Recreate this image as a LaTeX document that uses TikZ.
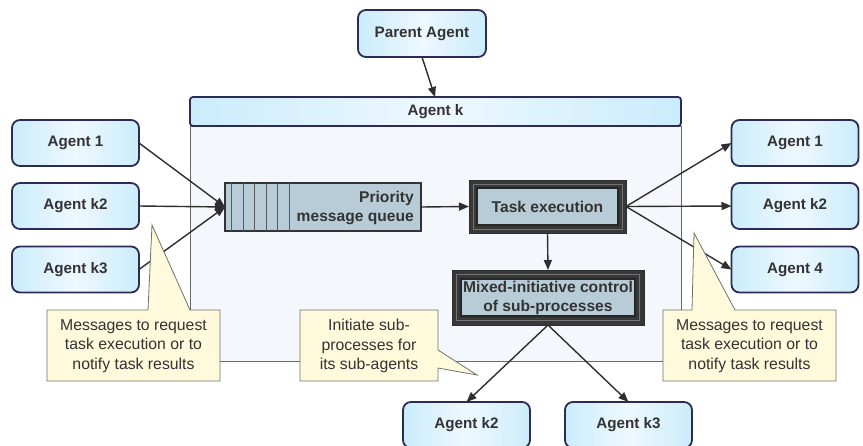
\documentclass[tikz,border=0pt]{standalone}
\usepackage{fontspec}
\setmainfont{Liberation Sans}
\usetikzlibrary{arrows.meta}

\definecolor{navy}{HTML}{2B2B55}
\definecolor{agentblue}{HTML}{CBECFC}
\definecolor{agentpale}{HTML}{EEF8FE}
\definecolor{labelgray}{HTML}{333333}
\definecolor{linegray}{HTML}{2E2E2E}
\definecolor{bodyfill}{HTML}{F4F8FC}
\definecolor{bodyedge}{HTML}{6A6A6A}
\definecolor{slate}{HTML}{B8CCD8}
\definecolor{notefill}{HTML}{FFFADC}
\definecolor{noteedge}{HTML}{707070}

\tikzset{
  agentbox/.style={draw=navy, line width=1.8pt, rounded corners=8pt,
    minimum width=127pt, minimum height=46pt, inner sep=0pt, outer sep=0pt,
    left color=agentblue, right color=agentblue, middle color=agentpale,
    text=labelgray, font=\fontsize{15.2}{18}\selectfont\bfseries},
  flow/.style={draw=linegray, line width=1.4pt,
    -{Triangle[length=10pt,width=8pt]}},
  frameouter/.style={draw=linegray, line width=1pt, fill=black!78,
    inner sep=0pt, outer sep=0pt},
  frameinner/.style={draw=black!85, line width=1.2pt, fill=slate,
    inner sep=0pt, outer sep=0pt, text=labelgray, align=center,
    font=\fontsize{15.6}{19}\selectfont\bfseries},
  note/.style={draw=noteedge, line width=0.8pt, fill=notefill},
  notetext/.style={align=center, text=labelgray, inner sep=0pt,
    font=\fontsize{15.8}{19.3}\selectfont},
}

\begin{document}
\begin{tikzpicture}[x=1pt, y=-1pt]
\useasboundingbox (0,0) rectangle (863,445);

% Agent k container: body and title bar
\node[draw=bodyedge, line width=0.8pt, fill=bodyfill, minimum width=491pt,
  minimum height=235pt, inner sep=0pt, outer sep=0pt] (body) at (435.5,243.5) {};
\node[agentbox, rounded corners=3pt, minimum width=491pt, minimum height=29pt]
  (header) at (435.5,111.5) {Agent k};
\coordinate (hdrin) at (435,97);

% Parent
\node[agentbox, minimum width=128pt, minimum height=47pt] (parent) at (422,33.5) {Parent Agent};

% Senders on the left
\node[agentbox] (inA) at (75.5,143) {Agent 1};
\node[agentbox] (inB) at (75.5,206) {Agent k2};
\node[agentbox] (inC) at (75.5,269.5) {Agent k3};

% Receivers on the right
\node[agentbox] (outA) at (795,143) {Agent 1};
\node[agentbox] (outB) at (795,206) {Agent k2};
\node[agentbox] (outC) at (795,269.5) {Agent 4};

% Sub-agents at the bottom
\node[agentbox] (subA) at (466.5,425) {Agent k2};
\node[agentbox] (subB) at (628.5,425) {Agent k3};

% Priority message queue with its slots
\node[draw=black!80, line width=1.4pt, fill=slate, minimum width=196pt,
  minimum height=48pt, inner sep=0pt, outer sep=0pt] (queue) at (323,207) {};
\foreach \cx in {231,243,254.5,266,277.5,289}
  \draw[black!65, line width=0.8pt] (\cx,183) -- (\cx,231);
\node[anchor=east, align=right, inner sep=0pt, text=labelgray,
  font=\fontsize{15.6}{19}\selectfont\bfseries] (queuetext) at (414,207.5)
  {Priority\\message queue};

% Task execution (double frame)
\node[frameouter, minimum width=157pt, minimum height=53pt] (task) at (547.5,206.5) {};
\draw[black!55, line width=0.8pt] ([shift={(4,4)}]task.north west) rectangle ([shift={(-4,-4)}]task.south east);
\node[frameinner, minimum width=141pt, minimum height=37pt] (taskin) at (547.5,206.5) {Task execution};

% Mixed-initiative control (double frame)
\node[frameouter, minimum width=192pt, minimum height=55pt] (mixed) at (548,297.5) {};
\draw[black!55, line width=0.8pt] ([shift={(4.5,4.5)}]mixed.north west) rectangle ([shift={(-4.5,-4.5)}]mixed.south east);
\node[frameinner, minimum width=174pt, minimum height=37pt] (mixedin) at (548,297.5)
  {Mixed-initiative control\\of sub-processes};

% Connectors
\draw[flow] (parent.south) -- (hdrin);
\draw[flow] (inA.east) -- (queue.west);
\draw[flow] (inB.east) -- (queue.west);
\draw[flow] (inC.east) -- (queue.west);
\draw[flow] (queue.east) -- (task.west);
\draw[flow] (task.east) -- (outA.west);
\draw[flow] (task.east) -- (outB.west);
\draw[flow] (task.east) -- (outC.west);
\draw[flow] (task.south) -- (mixed.north);
\draw[flow] (mixed.south) -- (subA.north);
\draw[flow] (mixed.south) -- (subB.north);

% Callouts
\draw[note] (47,310) -- (148,310) -- (152,225) -- (190,310) -- (220,310)
  -- (220,381) -- (47,381) -- cycle;
\node[notetext] (noteL) at (133.5,346) {Messages to request\\task execution or to\\notify task results};

\draw[note] (300,310) -- (438,310) -- (438,350) -- (477,375) -- (438,368)
  -- (438,381) -- (300,381) -- cycle;
\node[notetext] (noteM) at (369,346) {Initiate sub-\\processes for\\its sub-agents};

\draw[note] (663,310) -- (692,310) -- (694,233) -- (735,310) -- (836,310)
  -- (836,381) -- (663,381) -- cycle;
\node[notetext] (noteR) at (749.5,346) {Messages to request\\task execution or to\\notify task results};
\end{tikzpicture}
\end{document}
